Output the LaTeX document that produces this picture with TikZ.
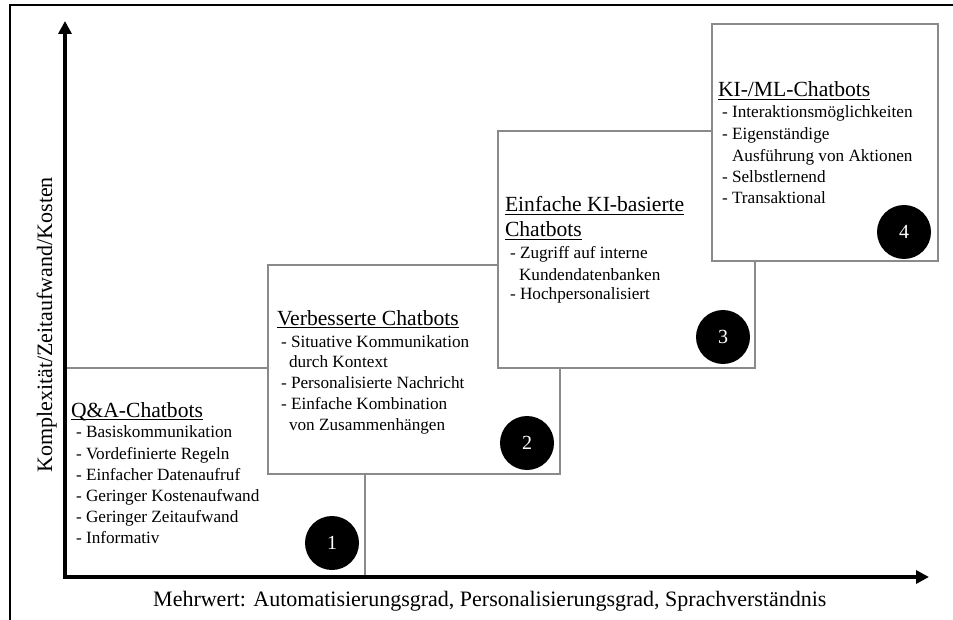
\documentclass[tikz,border=0pt]{standalone}
\usepackage{fontspec}
\setmainfont{Liberation Serif}
\usetikzlibrary{arrows.meta,calc}
\definecolor{boxgray}{HTML}{8A8A8A}
\begin{document}
\begin{tikzpicture}[x=1pt,y=-1pt,
  stagebox/.style={draw=boxgray, line width=1.8pt, fill=white, inner sep=0pt, outer sep=0pt, anchor=north west},
  ttl/.style={font=\fontsize{21.6}{26}\selectfont, anchor=base west, inner sep=0pt, outer sep=0pt},
  itm/.style={font=\fontsize{17.2}{21}\selectfont, anchor=base west, inner sep=0pt, outer sep=0pt},
  numdot/.style={circle, fill=black, minimum size=54pt, inner sep=0pt, text=white, font=\fontsize{20}{24}\selectfont},
  axislbl/.style={font=\fontsize{22}{26}\selectfont, inner sep=0pt},
  axisline/.style={line width=3.4pt, -{Triangle[length=13pt,width=13pt]}},
  uline/.style={line width=1.3pt}]
\useasboundingbox (0,0) rectangle (953,620);
% outer frame (partially visible)
\draw[line width=1.6pt] (10,625) -- (10,5) -- (960,5);
% stage boxes
\node[stagebox, minimum width=300pt, minimum height=209pt] (b1) at (65,368) {};
\node[stagebox, minimum width=292pt, minimum height=209pt] (b2) at (268,265) {};
\node[stagebox, minimum width=257pt, minimum height=237pt] (b3) at (498,131) {};
\node[stagebox, minimum width=226pt, minimum height=237pt] (b4) at (712,24) {};
% box 1
\node[ttl] (t1) at (71,417) {Q\&A-Chatbots};
\draw[uline] ($(t1.base west)+(0,2.6)$) -- ($(t1.base east)+(0,2.6)$);
\node[itm] (i11) at (76,437) {- Basiskommunikation};
\node[itm] (i12) at (76,459) {- Vordefinierte Regeln};
\node[itm] (i13) at (76,480) {- Einfacher Datenaufruf};
\node[itm] (i14) at (76,501) {- Geringer Kostenaufwand};
\node[itm] (i15) at (76,522) {- Geringer Zeitaufwand};
\node[itm] (i16) at (76,543) {- Informativ};
% box 2
\node[ttl] (t2) at (277,325) {Verbesserte Chatbots};
\draw[uline] ($(t2.base west)+(0,2.6)$) -- ($(t2.base east)+(0,2.6)$);
\node[itm] (i21) at (281,347) {- Situative Kommunikation};
\node[itm] (i22) at (289,367) {durch Kontext};
\node[itm] (i23) at (281,388) {- Personalisierte Nachricht};
\node[itm] (i24) at (281,409) {- Einfache Kombination};
\node[itm] (i25) at (289,430) {von Zusammenhängen};
% box 3
\node[ttl] (t3a) at (505,212) {Einfache KI-basierte};
\draw[uline] ($(t3a.base west)+(0,2.6)$) -- ($(t3a.base east)+(0,2.6)$);
\node[ttl] (t3b) at (505,237) {Chatbots};
\draw[uline] ($(t3b.base west)+(0,2.6)$) -- ($(t3b.base east)+(0,2.6)$);
\node[itm] (i31) at (510,259) {- Zugriff auf interne};
\node[itm] (i32) at (519,281) {Kundendatenbanken};
\node[itm] (i33) at (510,300) {- Hochpersonalisiert};
% box 4
\node[ttl] (t4) at (718,97) {KI-/ML-Chatbots};
\draw[uline] ($(t4.base west)+(0,2.6)$) -- ($(t4.base east)+(0,2.6)$);
\node[itm] (i41) at (722,118) {- Interaktionsmöglichkeiten};
\node[itm] (i42) at (722,140) {- Eigenständige};
\node[itm] (i43) at (732,162) {Ausführung von Aktionen};
\node[itm] (i44) at (722,183) {- Selbstlernend};
\node[itm] (i45) at (722,204) {- Transaktional};
% numbered dots
\node[numdot] (n1) at (332,543) {1};
\node[numdot] (n2) at (527,443) {2};
\node[numdot] (n3) at (723,337) {3};
\node[numdot] (n4) at (904,232) {4};
% axes
\coordinate (O) at (65,577);
\coordinate (Ystart) at (65,578.7);
\coordinate (Ytip) at (65,21);
\coordinate (Xstart) at (63.3,577);
\coordinate (Xtip) at (929,577);
\draw[axisline] (Ystart) -- (Ytip);
\draw[axisline] (Xstart) -- (Xtip);
\node[axislbl, rotate=90, anchor=base] (ylab) at (52,325) {Komplexität/Zeitaufwand/Kosten};
\node[axislbl, anchor=base west] (xlab) at (153,606) {Mehrwert: Automatisierungsgrad, Personalisierungsgrad, Sprachverständnis};
\end{tikzpicture}
\end{document}
